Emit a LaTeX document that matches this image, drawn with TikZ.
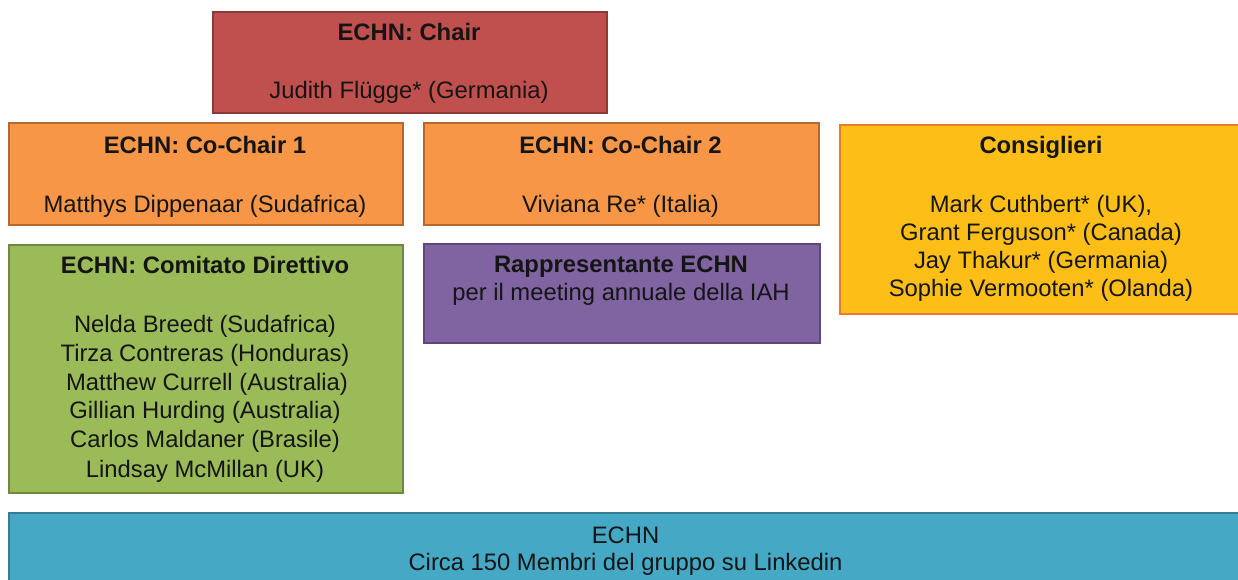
\documentclass[tikz,border=0pt]{standalone}
\usepackage{fontspec}
\setmainfont{Liberation Sans}
\definecolor{chairF}{HTML}{C0504D}
\definecolor{chairD}{HTML}{8C3A38}
\definecolor{orangeF}{HTML}{F79646}
\definecolor{orangeD}{HTML}{B5692F}
\definecolor{goldF}{HTML}{FDBF17}
\definecolor{goldD}{HTML}{EC7A2C}
\definecolor{greenF}{HTML}{9BBB59}
\definecolor{greenD}{HTML}{71893F}
\definecolor{purpleF}{HTML}{8064A2}
\definecolor{purpleD}{HTML}{5C4776}
\definecolor{blueF}{HTML}{45A9C6}
\definecolor{blueD}{HTML}{357D91}
\definecolor{ink}{HTML}{151515}
\tikzset{
  box/.style={draw, line width=1.5pt, anchor=north west, inner sep=0pt},
  txt/.style={anchor=base, inner sep=0pt, text=ink, font=\fontsize{23.8}{28.5}\selectfont},
  ttl/.style={txt, font=\fontsize{23.8}{28.5}\selectfont\bfseries},
}
\begin{document}
\begin{tikzpicture}[x=1pt,y=-1pt]
\useasboundingbox (0,0) rectangle (1238,579);
\clip (0,0) rectangle (1238,579);
\fill[white] (0,0) rectangle (1238,579);
% boxes
\node[box, fill=chairF, draw=chairD, minimum width=394pt, minimum height=101pt] (chair) at (212,11) {};
\node[box, fill=orangeF, draw=orangeD, minimum width=394pt, minimum height=102pt] (co1) at (8,122) {};
\node[box, fill=orangeF, draw=orangeD, minimum width=395pt, minimum height=102pt] (co2) at (423,122) {};
\node[box, fill=goldF, draw=goldD, line width=2pt, minimum width=404pt, minimum height=189pt] (cons) at (839,124) {};
\node[box, fill=greenF, draw=greenD, minimum width=394pt, minimum height=248pt] (comit) at (8,244) {};
\node[box, fill=purpleF, draw=purpleD, minimum width=396pt, minimum height=99pt] (rapp) at (423,243) {};
\node[box, fill=blueF, draw=blueD, minimum width=1240pt, minimum height=90pt] (echn) at (8,512) {};
% texts
\node[ttl] (chairT) at (409,40) {ECHN: Chair};
\node[txt] (chairN) at (409,98) {Judith Flügge* (Germania)};
\node[ttl] (co1T) at (205,153) {ECHN: Co-Chair 1};
\node[txt] (co1N) at (205,212) {Matthys Dippenaar (Sudafrica)};
\node[ttl] (co2T) at (620.5,153) {ECHN: Co-Chair 2};
\node[txt] (co2N) at (620.5,212) {Viviana Re* (Italia)};
\node[ttl] (consT) at (1041,153) {Consiglieri};
\node[txt] (cons1) at (1041,212) {Mark Cuthbert* (UK),};
\node[txt] (cons2) at (1041,240) {Grant Ferguson* (Canada)};
\node[txt] (cons3) at (1041,268) {Jay Thakur* (Germania)};
\node[txt] (cons4) at (1041,296.5) {Sophie Vermooten* (Olanda)};
\node[ttl] (comitT) at (205,273) {ECHN: Comitato Direttivo};
\node[txt] (comit1) at (205,332) {Nelda Breedt (Sudafrica)};
\node[txt] (comit2) at (205,361) {Tirza Contreras (Honduras)};
\node[txt] (comit3) at (207,390) {Matthew Currell (Australia)};
\node[txt] (comit4) at (205,418.5) {Gillian Hurding (Australia)};
\node[txt] (comit5) at (205,447.5) {Carlos Maldaner (Brasile)};
\node[txt] (comit6) at (205,477) {Lindsay McMillan (UK)};
\node[ttl] (rappT) at (621,272) {Rappresentante ECHN};
\node[txt] (rappN) at (621,300) {per il meeting annuale della IAH};
\node[txt] (echnT) at (625.5,543) {ECHN};
\node[txt] (echnN) at (625.5,570) {Circa 150 Membri del gruppo su Linkedin};
\end{tikzpicture}
\end{document}
